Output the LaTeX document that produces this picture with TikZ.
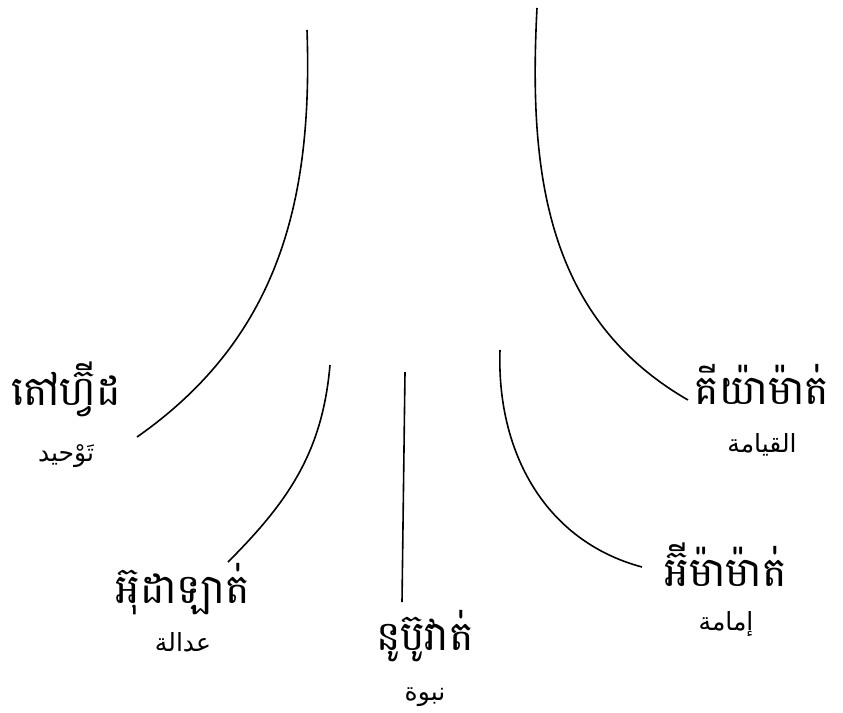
\documentclass[tikz,border=0pt]{standalone}
\usepackage{fontspec}
\newfontfamily\khmerfont[Script=Khmer]{Battambang}
\newfontfamily\arabicfont[Script=Arabic]{DejaVu Sans}
\TeXXeTstate=1
\usetikzlibrary{positioning}

\begin{document}
\begin{tikzpicture}[
  x=1pt, y=-1pt,
  branch/.style={line width=1.6pt},
  khmer/.style={font=\khmerfont\fontsize{41}{44}\selectfont, inner sep=0pt, anchor=base},
  arabic/.style={font=\arabicfont\fontsize{25}{28}\selectfont, inner sep=0pt, anchor=base}
]
\useasboundingbox (0,0) rectangle (843,712);

% branch tops
\coordinate (t1) at (307,30);
\coordinate (t2) at (330,365);
\coordinate (t3) at (405,372);
\coordinate (t4) at (500,350);
\coordinate (t5) at (537,8);

% Khmer names
\node[khmer] (tawhid) at (66,405) {តៅហ្វ៊ីដ};
\node[khmer] (adalat) at (183,603) {អ៊ុដាឡាត់};
\node[khmer] (nubuwat) at (425,650) {នូប៊ូវាត់};
\node[khmer] (imamat) at (726,586) {អ៊ីម៉ាម៉ាត់};
\node[khmer] (qiyamat) at (762,404) {គីយ៉ាម៉ាត់};

% Arabic names
\node[arabic] (tawhidar) at ([yshift=-56pt]tawhid.base) {\beginR تَوْحيد\endR};
\node[arabic] (adalatar) at ([yshift=-48pt]adalat.base) {\beginR عدالة\endR};
\node[arabic] (nubuwatar) at ([yshift=-50pt]nubuwat.base) {\beginR نبوة\endR};
\node[arabic] (imamatar) at ([yshift=-44pt]imamat.base) {\beginR إمامة\endR};
\node[arabic] (qiyamatar) at ([yshift=-48pt]qiyamat.base) {\beginR القيامة\endR};

% branch ends
\coordinate (e1) at (137,437);
\coordinate (e2) at (228,562);
\coordinate (e3) at (402,602);
\coordinate (e4) at (642,567);
\coordinate (e5) at (688,400);

% branches
\draw[branch] (t1) to[out=-88, in=35] (e1);
\draw[branch] (t2) to[out=-95, in=45] (e2);
\draw[branch] (t3) -- (e3);
\draw[branch] (t4) to[out=-92, in=165] (e4);
\draw[branch] (t5) to[out=-93, in=150] (e5);

\end{tikzpicture}
\end{document}
